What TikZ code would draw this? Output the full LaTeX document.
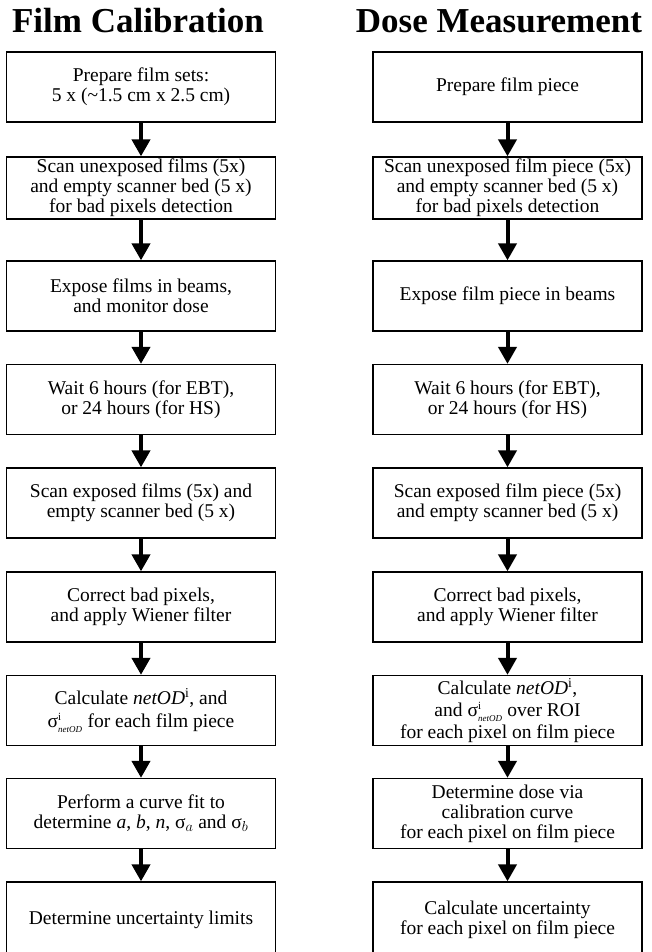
\documentclass[tikz,border=0pt]{standalone}
\usepackage{fontspec}
\setmainfont{Liberation Serif}
\usepackage{tikz}
\usetikzlibrary{arrows.meta}
\newcommand{\sgm}[2]{σ$^{\mbox{\fontsize{11}{11}\selectfont #1}}_{\mbox{\fontsize{9}{9}\selectfont\itshape #2}}$}

\begin{document}
\begin{tikzpicture}[x=1pt,y=1pt]
\tikzstyle{stepbox}=[draw=black, line width=1.3pt, minimum width=269pt, minimum height=70pt, inner sep=1pt, align=center, font=\fontsize{19.5}{20}\selectfont]
\tikzstyle{flow}=[line width=4pt, -{Triangle[width=18pt,length=17pt]}]
\tikzstyle{head}=[anchor=base, font=\fontsize{35}{38}\selectfont\bfseries]
\useasboundingbox (0,0) rectangle (652,-952);
\node [head] (tc) at (138,-33) {Film Calibration};
\node [head] (tm) at (499,-33) {Dose Measurement};
\node [stepbox] (c1) at (141,-87) {Prepare film sets:\\5 x (\textasciitilde1.5 cm x 2.5 cm)};
\node [stepbox, minimum height=62pt] (c2) at (141,-188) {Scan unexposed films (5x)\\and empty scanner bed (5 x)\\for bad pixels detection};
\node [stepbox] (c3) at (141,-296) {Expose films in beams,\\and monitor dose};
\node [stepbox] (c4) at (141,-399.5) {Wait 6 hours (for EBT),\\or 24 hours (for HS)};
\node [stepbox] (c5) at (141,-503) {Scan exposed films (5x) and\\empty scanner bed (5 x)};
\node [stepbox] (c6) at (141,-607) {Correct bad pixels,\\and apply Wiener filter};
\node [stepbox, font=\fontsize{19.5}{23}\selectfont] (c7) at (141,-710.5) {Calculate \textit{netOD}\textsuperscript{i}, and\\\sgm{i}{netOD} for each film piece};
\node [stepbox] (c8) at (141,-813.5) {Perform a curve fit to\\determine \textit{a}, \textit{b}, \textit{n}, σ$_{a}$ and σ$_{b}$};
\node [stepbox, minimum height=76pt] (c9) at (141,-920) {Determine uncertainty limits};
\node [stepbox] (m1) at (507.5,-87) {Prepare film piece};
\node [stepbox, minimum height=62pt] (m2) at (507.5,-188) {Scan unexposed film piece (5x)\\and empty scanner bed (5 x)\\for bad pixels detection};
\node [stepbox] (m3) at (507.5,-296) {Expose film piece in beams};
\node [stepbox] (m4) at (507.5,-399.5) {Wait 6 hours (for EBT),\\or 24 hours (for HS)};
\node [stepbox] (m5) at (507.5,-503) {Scan exposed film piece (5x)\\and empty scanner bed (5 x)};
\node [stepbox] (m6) at (507.5,-607) {Correct bad pixels,\\and apply Wiener filter};
\node [stepbox, font=\fontsize{19.5}{22}\selectfont] (m7) at (507.5,-710.5) {Calculate \textit{netOD}\textsuperscript{i},\\and \sgm{i}{netOD} over ROI\\for each pixel on film piece};
\node [stepbox] (m8) at (507.5,-813.5) {Determine dose via\\calibration curve\\for each pixel on film piece};
\node [stepbox, minimum height=76pt] (m9) at (507.5,-920) {Calculate uncertainty\\for each pixel on film piece};
\draw [flow] (c1) -- (c2);
\draw [flow] (c2) -- (c3);
\draw [flow] (c3) -- (c4);
\draw [flow] (c4) -- (c5);
\draw [flow] (c5) -- (c6);
\draw [flow] (c6) -- (c7);
\draw [flow] (c7) -- (c8);
\draw [flow] (c8) -- (c9);
\draw [flow] (m1) -- (m2);
\draw [flow] (m2) -- (m3);
\draw [flow] (m3) -- (m4);
\draw [flow] (m4) -- (m5);
\draw [flow] (m5) -- (m6);
\draw [flow] (m6) -- (m7);
\draw [flow] (m7) -- (m8);
\draw [flow] (m8) -- (m9);
\end{tikzpicture}
\end{document}
